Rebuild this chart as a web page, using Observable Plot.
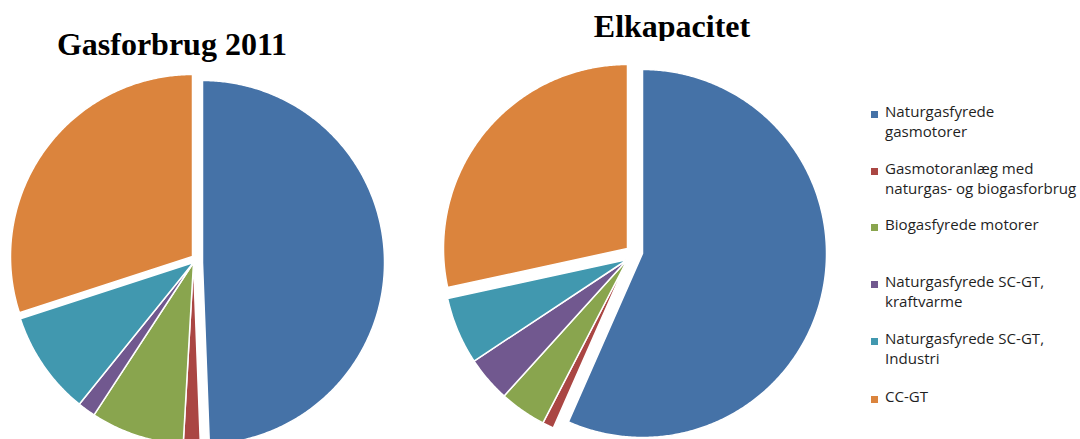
<!DOCTYPE html>
<html>
<head>
<meta charset="utf-8">
<script src="https://cdn.jsdelivr.net/npm/d3@7"></script>
<script src="https://cdn.jsdelivr.net/npm/@observablehq/plot@0.6"></script>
<style>
  html, body { margin: 0; padding: 0; background: #fff; }
  #chart { position: relative; width: 1080px; height: 439px; overflow: hidden; }
  #chart svg { position: absolute; left: 0; top: 0; }
  .title {
    position: absolute; font-family: "Liberation Serif", "Times New Roman", serif;
    font-weight: bold; font-size: 32px; line-height: 32px; color: #000;
    white-space: nowrap; transform: translateX(-50%);
  }
  .clip { position: absolute; overflow: hidden; left: 0; top: 0; width: 1080px; }
  .legend { position: absolute; left: 0; top: 0; font-family: "Open Sans", sans-serif;
    font-size: 15.1px; line-height: 19.5px; color: #1f1f1f; }
  .legend .item { position: absolute; white-space: nowrap; }
  .legend .sw { position: absolute; width: 7px; height: 7px; }
</style>
</head>
<body>
<div id="chart"></div>
<script>
// Slice categories and their colours
const categories = [
  "Naturgasfyrede gasmotorer",
  "Gasmotoranlæg med naturgas- og biogasforbrug",
  "Biogasfyrede motorer",
  "Naturgasfyrede SC-GT, kraftvarme",
  "Naturgasfyrede SC-GT, Industri",
  "CC-GT"
];
const legendLines = [
  ["Naturgasfyrede", "gasmotorer"],
  ["Gasmotoranlæg med", "naturgas- og biogasforbrug"],
  ["Biogasfyrede motorer"],
  ["Naturgasfyrede SC-GT,", "kraftvarme"],
  ["Naturgasfyrede SC-GT,", "Industri"],
  ["CC-GT"]
];
const colors = ["#4572A7", "#AA4643", "#89A54E", "#71588F", "#4198AF", "#DB843D"];

// Shares (%) per category
const pieTitles = ["Gasforbrug 2011", "Elkapacitet"];
const gasforbrug = [49.4, 1.5, 8.3, 1.6, 9.2, 30.0];
const elkapacitet = [56.6, 1.0, 4.1, 4.0, 5.9, 28.4];

// Layout of the two pies: centre, radius and pulled-out slices
const pies = [
  {title: pieTitles[0], values: gasforbrug, cx: 193, cy: 262, r: 182,
   explode: {0: [9, 0], 5: [-1, -6]}, titleX: 172, titleBase: 55, clip: null},
  {title: pieTitles[1], values: elkapacitet, cx: 627, cy: 259, r: 184,
   explode: {0: [15, -6], 5: [0, -11]}, titleX: 672, titleBase: 37, clip: 41}
];

// Build wedge outlines from the pie angles (clockwise from 12 o'clock)
const rows = [];
pies.forEach((p, pi) => {
  const arcs = d3.pie().sort(null).value(d => d)(p.values);
  arcs.forEach((a, i) => {
    const [dx, dy] = p.explode[i] || [0, 0];
    const ox = p.cx + dx, oy = p.cy + dy;
    const id = pi + "-" + i;
    rows.push({id, category: categories[i], x: ox, y: oy});
    const steps = Math.max(2, Math.ceil((a.endAngle - a.startAngle) / (Math.PI / 360)));
    for (let k = 0; k <= steps; ++k) {
      const t = a.startAngle + (a.endAngle - a.startAngle) * k / steps;
      rows.push({id, category: categories[i], x: ox + p.r * Math.sin(t), y: oy - p.r * Math.cos(t)});
    }
  });
});

const chart = Plot.plot({
  width: 1080,
  height: 439,
  margin: 0,
  x: {domain: [0, 1080], range: [0, 1080], axis: null},
  y: {domain: [0, 439], range: [0, 439], axis: null},
  color: {domain: categories, range: colors},
  marks: [
    Plot.line(rows, {
      x: "x", y: "y", z: "id", fill: "category",
      stroke: "white", strokeWidth: 1.5, curve: "linear-closed", strokeLinejoin: "round"
    })
  ]
});

const root = document.getElementById("chart");
root.appendChild(chart);

// Pie titles (the baseline sits 0.8375em below the line box top for line-height 1)
pies.forEach(p => {
  const host = document.createElement("div");
  host.className = "clip";
  host.style.height = (p.clip ?? 439) + "px";
  const t = document.createElement("div");
  t.className = "title";
  t.textContent = p.title;
  t.style.left = p.titleX + "px";
  t.style.top = (p.titleBase - 0.8375 * 32) + "px";
  host.appendChild(t);
  root.appendChild(host);
});

// Legend
const legend = document.createElement("div");
legend.className = "legend";
const rowCenters = [114, 171, 227, 284, 341, 399];
categories.forEach((c, i) => {
  const sw = document.createElement("div");
  sw.className = "sw";
  sw.style.background = colors[i];
  sw.style.left = "871px";
  sw.style.top = (rowCenters[i] - 3.5) + "px";
  legend.appendChild(sw);
  const item = document.createElement("div");
  item.className = "item";
  item.style.left = "885px";
  item.style.top = (rowCenters[i] - 12) + "px";
  item.innerHTML = legendLines[i].map(s => s.replace(/&/g, "&amp;")).join("<br>");
  legend.appendChild(item);
});
root.appendChild(legend);
</script>
</body>
</html>
